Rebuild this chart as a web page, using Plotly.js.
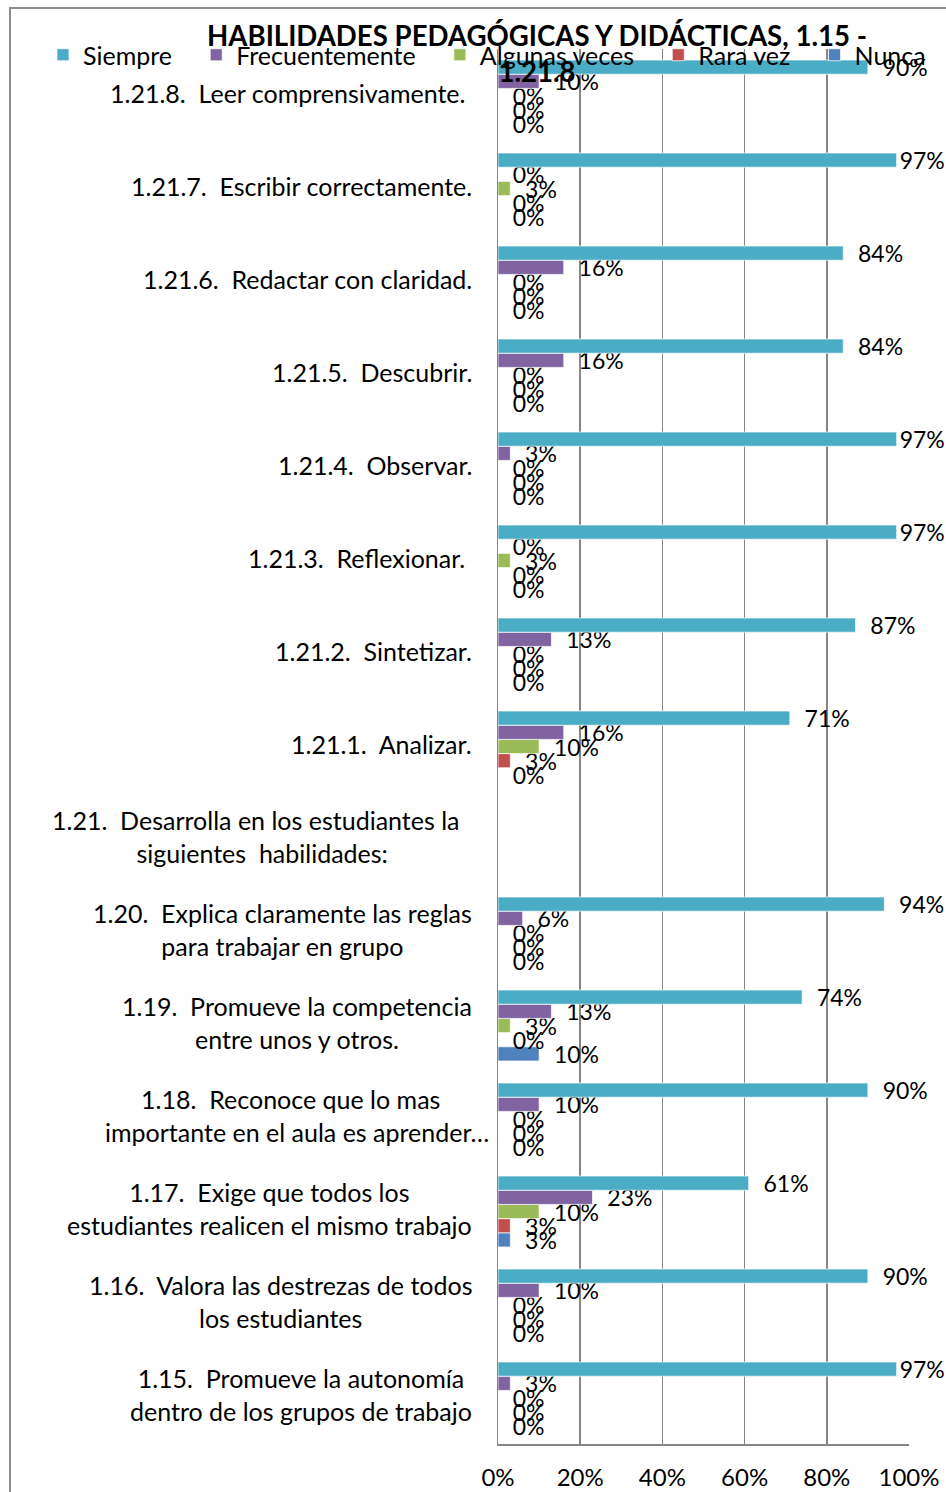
<!DOCTYPE html>
<html><head><meta charset="utf-8">
<script src="https://cdn.plot.ly/plotly-3.0.1.min.js"></script>
<style>
html,body{margin:0;padding:0;background:#fff;overflow:hidden;}
#chart{width:946px;height:1492px;}
#frame{position:absolute;left:9px;top:7px;width:1300px;height:1800px;border:2px solid #8e8e8e;pointer-events:none;}
</style>
</head><body>
<div id="chart"></div><div id="frame"></div>
<script>
// categories bottom -> top
const categories = ['1.15','1.16','1.17','1.18','1.19','1.20','1.21','1.21.1','1.21.2','1.21.3','1.21.4','1.21.5','1.21.6','1.21.7','1.21.8'];
const categoryLabels = [
  '1.15.  Promueve la autonomía<br>dentro de los grupos de trabajo',
  '1.16.  Valora las destrezas de todos<br>los estudiantes',
  '1.17.  Exige que todos los<br>estudiantes realicen el mismo trabajo',
  '1.18.  Reconoce que lo mas  <br>importante en el aula es aprender…',
  '1.19.  Promueve la competencia<br>entre unos y otros.',
  '1.20.  Explica claramente las reglas<br>para trabajar en grupo',
  '1.21.  Desarrolla en los estudiantes la  <br>siguientes  habilidades:',
  '1.21.1.  Analizar.',
  '1.21.2.  Sintetizar.',
  '1.21.3.  Reflexionar.\u00a0',
  '1.21.4.  Observar.',
  '1.21.5.  Descubrir.',
  '1.21.6.  Redactar con claridad.',
  '1.21.7.  Escribir correctamente.',
  '1.21.8.  Leer comprensivamente.\u00a0'
];
const siempre        = [97, 90, 61, 90, 74, 94, null, 71, 87, 97, 97, 84, 84, 97, 90];
const frecuentemente = [ 3, 10, 23, 10, 13,  6, null, 16, 13,  0,  3, 16, 16,  0, 10];
const algunasVeces   = [ 0,  0, 10,  0,  3,  0, null, 10,  0,  3,  0,  0,  0,  3,  0];
const raraVez        = [ 0,  0,  3,  0,  0,  0, null,  3,  0,  0,  0,  0,  0,  0,  0];
const nunca          = [ 0,  0,  3,  0, 10,  0, null,  0,  0,  0,  0,  0,  0,  0,  0];
const seriesNames  = ['Siempre','Frecuentemente','Algunas veces','Rara vez','Nunca'];
const seriesValues = [siempre, frecuentemente, algunasVeces, raraVez, nunca];
const seriesColors = ['#4BACC6','#8064A2','#9BBB59','#C0504D','#4F81BD'];
const xTicks = [0, 20, 40, 60, 80, 100];

const FONT = 'Lato, "Open Sans", sans-serif';
const NB = '\u00a0';
const nb = s => s.replace(/ {2,}/g, m => NB.repeat(m.length));
const labelText = v => v == null ? '' : (v >= 96 ? '' : NB + NB) + v + '%';
const labelShift = c => (c === '1.18' ? -7 : -24);

const traces = [];
for (let i = seriesNames.length - 1; i >= 0; i--) {
  traces.push({
    type: 'bar', orientation: 'h',
    name: seriesNames[i] + (i < seriesNames.length - 1 ? NB.repeat(3) : ''),
    y: categories, x: seriesValues[i],
    marker: {color: seriesColors[i], line: {color: 'rgba(255,255,255,0.7)', width: 1}},
    text: seriesValues[i].map(labelText),
    textposition: 'outside', constraintext: 'none', cliponaxis: false,
    textfont: {family: FONT, size: 23, color: '#000'},
    hoverinfo: 'skip'
  });
}

const annotations = categories.map((c, i) => ({
  xref: 'paper', x: 0, yref: 'y', y: i,
  xanchor: 'right', yanchor: 'middle', xshift: labelShift(c), yshift: 3, align: 'center',
  text: nb(categoryLabels[i]), showarrow: false,
  font: {family: FONT, size: 25, color: '#000'}
}));

const layout = {
  width: 946, height: 1492,
  margin: {l: 498, r: 37, t: 49, b: 48, autoexpand: false},
  paper_bgcolor: '#fff', plot_bgcolor: '#fff',
  font: {family: FONT, color: '#000'},
  title: {
    text: 'HABILIDADES PEDAGÓGICAS Y DIDÁCTICAS, 1.15 -<br>1.21.8',
    xref: 'container', x: 537/946, xanchor: 'center',
    yref: 'container', y: 1 - 46/1492, yanchor: 'top',
    font: {family: FONT, size: 27.6, weight: 700, color: '#000'}
  },
  showlegend: true,
  legend: {
    orientation: 'h', traceorder: 'reversed',
    xref: 'paper', x: (43 - 498) / 411, xanchor: 'left',
    yref: 'paper', y: 1 + 17 / 1395, yanchor: 'top',
    font: {family: FONT, size: 25, color: '#000'},
    bgcolor: 'rgba(0,0,0,0)'
  },
  barmode: 'group', bargap: 0.237, bargroupgap: 0,
  xaxis: {
    range: [0, 100], tickvals: xTicks, ticktext: xTicks.map(v => v + '%'),
    showgrid: true, gridcolor: '#868686', gridwidth: 1.5,
    zeroline: false, showline: true, linecolor: '#868686', linewidth: 1.5,
    ticks: '', ticklabelstandoff: 12,
    tickfont: {family: FONT, size: 24, color: '#000'}
  },
  yaxis: {
    type: 'category', categoryorder: 'array', categoryarray: categories,
    showticklabels: false, showgrid: false, zeroline: false,
    showline: true, linecolor: '#868686', linewidth: 1.5, ticks: ''
  },
  annotations: annotations
};

Plotly.newPlot('chart', traces, layout, {displayModeBar: false, staticPlot: true});
</script>
</body></html>
